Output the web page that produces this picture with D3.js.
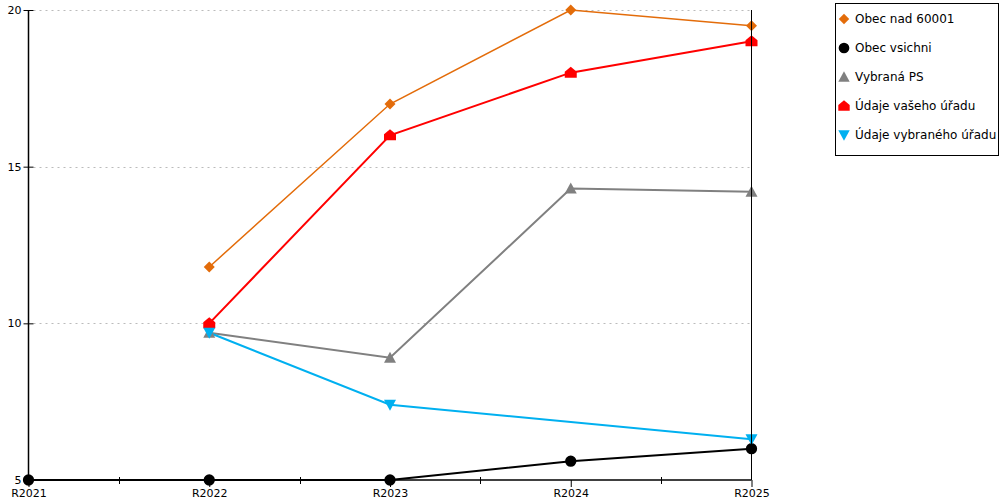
<!DOCTYPE html>
<html lang="cs">
<head>
<meta charset="utf-8">
<title>Graf</title>
<script src="https://cdn.jsdelivr.net/npm/d3@7/dist/d3.min.js"></script>
<style>
  body { margin: 0; background: #fff; }
  svg { font-family: "DejaVu Sans", Verdana, sans-serif; }
</style>
</head>
<body>
<svg id="chart" width="1000" height="500"></svg>
<script type="text/javascript">
// data
var categories = ["R2021", "R2022", "R2023", "R2024", "R2025"];
var yTicks = [5, 10, 15, 20];

var obecNad = [null, 11.8, 17, 20, 19.5];
var obecVsichni = [5, 5, 5, 5.6, 6.0];
var vybranaPS = [null, 9.7, 8.9, 14.3, 14.2];
var vasUrad = [null, 10, 16, 18, 19];
var vybranyUrad = [null, 9.7, 7.4, null, 6.3];

var seriesNames = ["Obec nad 60001", "Obec vsichni", "Vybraná PS", "Údaje vašeho úřadu", "Údaje vybraného úřadu"];
var seriesValues = [obecNad, obecVsichni, vybranaPS, vasUrad, vybranyUrad];
var seriesColors = ["#E36C0A", "#000000", "#808080", "#FF0000", "#00B0F0"];
var seriesWidths = [1.5, 2, 2, 2, 2];
var seriesMarkers = ["diamond", "circle", "triangle", "house", "down"];

var svg = d3.select("#chart");

// plot area edges (note: "top" is reserved on window)
var pLeft = 28.5, pRight = 751.5, pTop = 10, pBottom = 480;

var x = d3.scalePoint().domain(categories).range([pLeft, pRight]);
var y = d3.scaleLinear().domain([5, 20]).range([pBottom, pTop]);

// marker shapes
function markerPath(kind) {
  if (kind == "diamond") return "M0,-5.5L5.5,0L0,5.5L-5.5,0Z";
  if (kind == "circle") return d3.symbol(d3.symbolCircle, 100)();
  if (kind == "triangle") return "M0,-6L6,5L-6,5Z";
  if (kind == "house") return "M0,-6L6,-1L6,5L-6,5L-6,-1Z";
  if (kind == "down") return "M-6,-5L6,-5L0,6Z";
}

//////////////////////////////
// grid lines
svg.append("g").selectAll("line")
  .data(yTicks.filter(function(d){ return d > 5; }))
  .enter().append("line")
  .attr("x1", pLeft + 5).attr("x2", pRight)
  .attr("y1", function(d){ return Math.round(y(d)) + 0.5; })
  .attr("y2", function(d){ return Math.round(y(d)) + 0.5; })
  .attr("stroke", "#bbb").attr("stroke-dasharray", "2,4");

// y axis
var yAxis = d3.axisLeft(y).tickValues(yTicks).tickSize(5).tickFormat(d3.format("d"));
var gy = svg.append("g").attr("transform", "translate(" + pLeft + ",0)").call(yAxis);
gy.select(".domain").remove();
gy.selectAll(".tick line").attr("x2", 5).attr("x1", -5).attr("stroke", "#000");
gy.selectAll(".tick text").attr("x", -7).attr("font-size", 11).attr("font-family", "DejaVu Sans").attr("fill", "#000");
svg.append("line").attr("x1", pLeft).attr("x2", pLeft).attr("y1", pTop).attr("y2", pBottom)
  .attr("stroke", "#000").attr("stroke-width", 1.5);

// x axis
var xAxis = d3.axisBottom(x).tickSize(7).tickPadding(2);
var gx = svg.append("g").attr("transform", "translate(0," + pBottom + ")").call(xAxis);
gx.select(".domain").remove();
gx.selectAll(".tick text").attr("font-size", 11).attr("font-family", "DejaVu Sans").attr("fill", "#000");
svg.append("line").attr("x1", pLeft).attr("x2", pRight).attr("y1", pBottom).attr("y2", pBottom)
  .attr("stroke", "#000").attr("stroke-width", 1.5);
// minor ticks between categories
var mids = d3.pairs(categories).map(function(p){ return (x(p[0]) + x(p[1])) / 2; });
svg.append("g").selectAll("line").data(mids).enter().append("line")
  .attr("x1", function(d){ return Math.round(d) + 0.5; })
  .attr("x2", function(d){ return Math.round(d) + 0.5; })
  .attr("y1", pBottom - 3).attr("y2", pBottom + 4)
  .attr("stroke", "#000");

//////////////////////////////
// series: lines then markers
var line = d3.line()
  .x(function(d){ return x(d.c); })
  .y(function(d){ return y(d.v); });

seriesValues.forEach(function(vals, i) {
  var pts = vals.map(function(v, j){ return {c: categories[j], v: v}; })
    .filter(function(d){ return d.v !== null; });
  svg.append("path").datum(pts)
    .attr("d", line)
    .attr("fill", "none")
    .attr("stroke", seriesColors[i])
    .attr("stroke-width", seriesWidths[i]);
});

seriesValues.forEach(function(vals, i) {
  var pts = vals.map(function(v, j){ return {c: categories[j], v: v}; })
    .filter(function(d){ return d.v !== null; });
  svg.append("g").selectAll("path").data(pts).enter().append("path")
    .attr("d", markerPath(seriesMarkers[i]))
    .attr("transform", function(d){ return "translate(" + x(d.c) + "," + y(d.v) + ")"; })
    .attr("fill", seriesColors[i]);
});

// right border, on top of the markers
svg.append("line").attr("x1", pRight).attr("x2", pRight).attr("y1", pTop).attr("y2", pBottom)
  .attr("stroke", "#000").attr("stroke-width", 1);

//////////////////////////////
// legend
var legend = svg.append("g").attr("transform", "translate(835,3)");
legend.append("rect").attr("x", 0.5).attr("y", 0.5).attr("width", 163).attr("height", 152)
  .attr("fill", "#fff").attr("stroke", "#000");
seriesNames.forEach(function(name, i) {
  var g = legend.append("g").attr("transform", "translate(9," + (16 + i * 29) + ")");
  g.append("path").attr("d", markerPath(seriesMarkers[i])).attr("fill", seriesColors[i])
    .attr("transform", "scale(0.95)");
  g.append("text").attr("x", 11).attr("y", 4).attr("font-size", 12)
    .attr("font-family", "DejaVu Sans").text(name);
});
</script>
</body>
</html>
